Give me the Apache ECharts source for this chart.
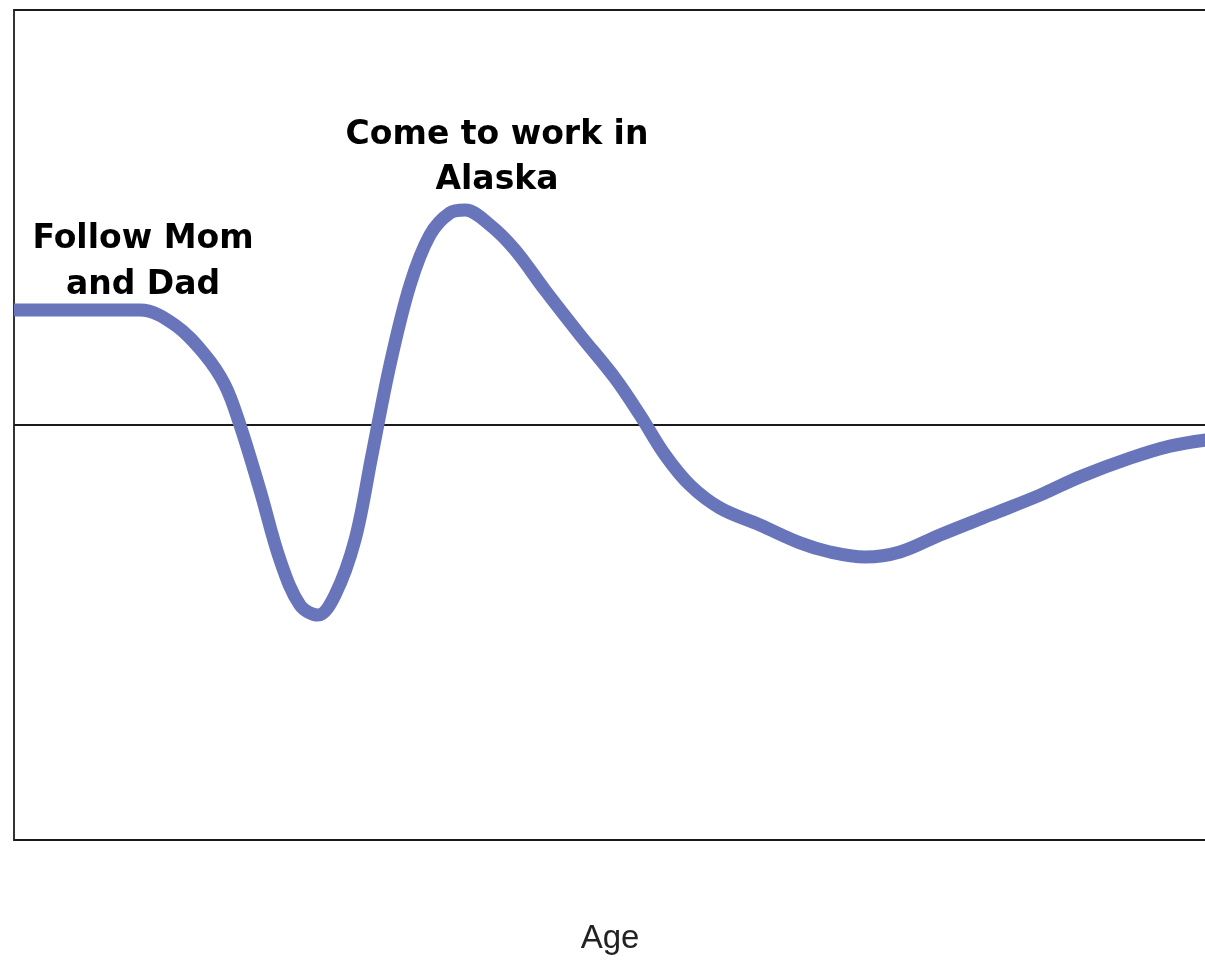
<!DOCTYPE html>
<html>
<head>
<meta charset="utf-8">
<script src="https://cdn.jsdelivr.net/npm/echarts@6/dist/echarts.min.js"></script>
<style>
    html, body { margin: 0; padding: 0; background: #fff; }
    #chart { width: 1205px; height: 964px; }
</style>
</head>
<body>
<div id="chart"></div>
<script>
// age along the x axis, feeling above/below the middle line
const ages = [0, 12.6, 16.1, 19.1, 21.1, 22.6, 24.6, 26.6, 28.6, 30.4, 32.1, 34.1, 35.8, 37.6, 39.6, 41.6, 43.6, 45.1,
    47.6, 50.1, 53.1, 56.6, 60.1, 62.6, 65.1, 67.6, 70.6, 74.6, 78.6, 81.6, 85.1, 88.6, 92.6, 97.6, 102.6, 106.6,
    111.6, 115.6, 119.2]
const levels = [27.7, 27.7, 24.1, 16.9, 9.6, 0, -15.7, -32.5, -43.4, -45.8, -41.0, -27.7, -7.2, 14.5, 33.7, 45.8, 51.1, 51.8,
    48.2, 42.2, 32.5, 21.7, 11.3, 2.4, -7.2, -14.5, -20.0, -24.1, -28.4, -30.6, -31.8, -30.6, -26.5, -21.7, -16.9, -12.5,
    -8.0, -5.1, -3.6]
const notes = ['Follow Mom\nand Dad', 'Come to work in\nAlaska']
const axisName = 'Age'

let chart = echarts.init(document.getElementById('chart'))
let option = {
    animation: false,
    grid: {
        left: 14,
        top: 10,
        width: 1192,
        height: 830,
        outerBoundsMode: 'none',
        show: true,
        borderColor: '#333',
        borderWidth: 2
    },
    xAxis: {
        type: 'value',
        min: 0,
        max: 119.2,
        name: axisName,
        nameLocation: 'middle',
        nameGap: 82,
        nameTextStyle: {
            fontFamily: 'Liberation Sans',
            fontSize: 33,
            color: '#222'
        },
        axisLine: { show: false },
        axisTick: { show: false },
        axisLabel: { show: false },
        splitLine: { show: false }
    },
    yAxis: {
        type: 'value',
        min: -100,
        max: 100,
        interval: 100,
        axisLine: { show: false },
        axisTick: { show: false },
        axisLabel: { show: false },
        splitLine: {
            show: true,
            lineStyle: { color: '#1a1a1a', width: 2 }
        }
    },
    series: [
        {
            type: 'line',
            data: ages.map((a, i) => [a, levels[i]]),
            smooth: 0.35,
            showSymbol: false,
            lineStyle: { color: '#6975bb', width: 13 }
        }
    ],
    graphic: [
        {
            type: 'text',
            x: 143,
            y: 262,
            style: {
                text: notes[0],
                fill: '#000',
                font: 'bold 33px "DejaVu Sans"',
                lineHeight: 46,
                textAlign: 'center',
                textVerticalAlign: 'middle'
            }
        },
        {
            type: 'text',
            x: 497,
            y: 158,
            style: {
                text: notes[1],
                fill: '#000',
                font: 'bold 33px "DejaVu Sans"',
                lineHeight: 45,
                textAlign: 'center',
                textVerticalAlign: 'middle'
            }
        }
    ]
}
chart.setOption(option)
</script>
</body>
</html>
